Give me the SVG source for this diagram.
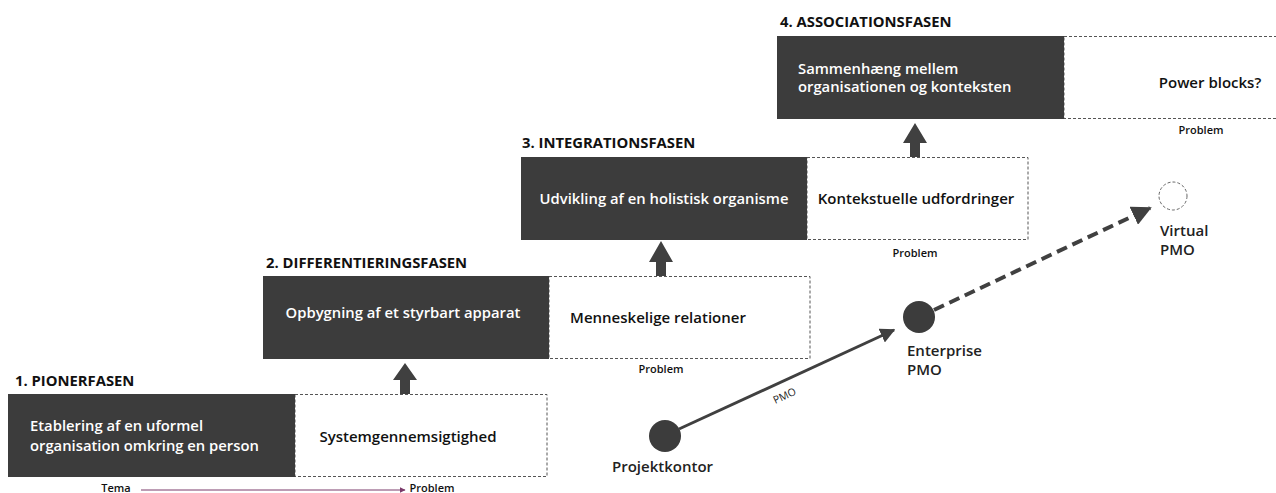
<svg xmlns="http://www.w3.org/2000/svg" width="1276" height="493" viewBox="0 0 1276 493">
<defs>
<style>
.title{font-family:"Open Sans",sans-serif;font-weight:700;font-size:14.8px;fill:#111}
.dark{fill:#3c3c3c}
.dash{fill:#fff;stroke:#555;stroke-width:1;stroke-dasharray:3,2}
.wt{font-family:"Open Sans",sans-serif;font-weight:600;font-size:14.8px;fill:#fff}
.bt{font-family:"Open Sans",sans-serif;font-weight:600;font-size:15px;fill:#111}
.sm{font-family:"Open Sans",sans-serif;font-weight:600;font-size:11px;fill:#111}
.lbl{font-family:"Open Sans",sans-serif;font-weight:600;font-size:15px;fill:#222}
.up{fill:#404040}
</style>
<marker id="ah" viewBox="0 0 10 10" refX="9" refY="5" markerWidth="5" markerHeight="5" orient="auto" markerUnits="strokeWidth"><path d="M0,0 L10,5 L0,10 z" fill="#404040"/></marker>
<marker id="ahp" viewBox="0 0 10 10" refX="9" refY="5" markerWidth="6" markerHeight="6" orient="auto" markerUnits="strokeWidth"><path d="M0,0 L10,5 L0,10 z" fill="#7a3a6a"/></marker>
</defs>

<g id="phase1">
<text class="title" x="15" y="386">1. PIONERFASEN</text>
<rect class="dash" x="295" y="394.5" width="252" height="82"/>
<rect class="dark" x="8" y="394" width="287" height="83"/>
<text class="wt" x="30" y="431">Etablering af en uformel</text>
<text class="wt" x="30" y="451">organisation omkring en person</text>
<text class="bt" x="408" y="442" text-anchor="middle">Systemgennemsigtighed</text>
<text class="sm" x="116" y="492" text-anchor="middle">Tema</text>
<text class="sm" x="432" y="492" text-anchor="middle">Problem</text>
</g>

<g id="phase2">
<text class="title" x="266" y="268">2. DIFFERENTIERINGSFASEN</text>
<rect class="dash" x="549" y="276.5" width="261" height="82"/>
<rect class="dark" x="263" y="276" width="286" height="83"/>
<text class="wt" x="403" y="318" text-anchor="middle">Opbygning af et styrbart apparat</text>
<text class="bt" x="658" y="323" text-anchor="middle">Menneskelige relationer</text>
<text class="sm" x="661" y="373" text-anchor="middle">Problem</text>
</g>

<g id="phase3">
<text class="title" x="522" y="148">3. INTEGRATIONSFASEN</text>
<rect class="dash" x="807" y="157.5" width="221" height="82"/>
<rect class="dark" x="521" y="157" width="286" height="83"/>
<text class="wt" x="664" y="204" text-anchor="middle">Udvikling af en holistisk organisme</text>
<text class="bt" x="916" y="204" text-anchor="middle">Kontekstuelle udfordringer</text>
<text class="sm" x="915" y="257" text-anchor="middle">Problem</text>
</g>

<g id="phase4">
<text class="title" x="780" y="27">4. ASSOCIATIONSFASEN</text>
<rect class="dash" x="1064" y="36.5" width="220" height="82"/>
<rect class="dark" x="777" y="36" width="287" height="83"/>
<text class="wt" x="798" y="74">Sammenhæng mellem</text>
<text class="wt" x="798" y="92">organisationen og konteksten</text>
<text class="bt" x="1210" y="88" text-anchor="middle">Power blocks?</text>
<text class="sm" x="1201" y="134" text-anchor="middle">Problem</text>
</g>

<g id="projektkontor">
<circle cx="665" cy="436" r="16" fill="#3c3c3c"/>
<text class="lbl" x="612" y="472">Projektkontor</text>
</g>
<g id="enterprise">
<circle cx="919" cy="317" r="16" fill="#3c3c3c"/>
<text class="lbl" x="907" y="356">Enterprise</text>
<text class="lbl" x="907" y="375">PMO</text>
</g>
<g id="virtual">
<circle cx="1173" cy="196" r="14" fill="#fff" stroke="#666" stroke-width="1" stroke-dasharray="3,2"/>
<text class="lbl" x="1160" y="236">Virtual</text>
<text class="lbl" x="1160" y="255">PMO</text>
</g>

<g id="connectors">
<line x1="141" y1="490" x2="405" y2="490" stroke="#7a3a6a" stroke-width="1" marker-end="url(#ahp)"/>
<path class="up" d="M400,394 V380 H393 L405,363 L417,380 H410 V394 z"/>
<path class="up" d="M656,276 V262 H649 L661,241 L673,262 H666 V276 z"/>
<path class="up" d="M910,157 V143 H903 L915,123 L927,143 H920 V157 z"/>
<line x1="679" y1="429" x2="894" y2="330" stroke="#404040" stroke-width="3" marker-end="url(#ah)"/>
<text x="0" y="0" transform="translate(786,399) rotate(-25)" text-anchor="middle" style="font-family:'Open Sans',sans-serif;font-size:10.5px;fill:#222">PMO</text>
<line x1="934" y1="310" x2="1150" y2="208" stroke="#404040" stroke-width="4" stroke-dasharray="11,6" marker-end="url(#ah)"/>
</g>
</svg>
